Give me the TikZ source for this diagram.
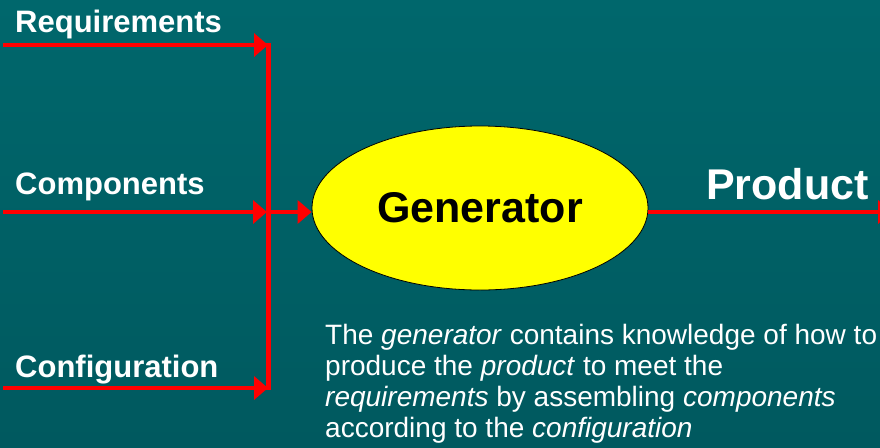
\documentclass[tikz,border=0pt]{standalone}
\usepackage{fontspec}
\setmainfont{Liberation Sans}
\usetikzlibrary{arrows.meta,shapes.geometric}
\definecolor{bgtop}{HTML}{00676C}
\definecolor{bgmid}{HTML}{007479}
\definecolor{bgbot}{HTML}{00595F}
\definecolor{arrowred}{HTML}{FF0000}
\definecolor{genyellow}{HTML}{FFFF00}
\begin{document}
\begin{tikzpicture}[x=1pt,y=-1pt,
  lbl/.style={anchor=base west, inner sep=0pt, text=white, font=\fontsize{31}{37}\selectfont\bfseries},
  biglbl/.style={anchor=base west, inner sep=0pt, text=white, font=\fontsize{43}{50}\selectfont\bfseries},
  flow/.style={draw=arrowred, line width=4.5pt, -{Triangle[length=14pt,width=23pt]}},
  bar/.style={draw=arrowred, line width=5pt},
  genbox/.style={ellipse, draw=black, line width=0.8pt, fill=genyellow, minimum width=336pt, minimum height=164pt, inner sep=0pt, font=\fontsize{43}{50}\selectfont\bfseries},
  note/.style={anchor=north west, inner sep=0pt, text=white, align=left, font=\fontsize{28}{31}\selectfont},
]
\shade[top color=bgtop, middle color=bgmid, bottom color=bgbot] (0,0) rectangle (880,447);
\useasboundingbox (0,0) rectangle (880,447);
\clip (0,0) rectangle (880,447);

% labels
\node[lbl] (req) at (15,32) {Requirements};
\node[lbl] (comp) at (15,194) {Components};
\node[lbl] (conf) at (15,377) {Configuration};
\node[biglbl] (prod) at (706,199) {Product};

% generator
\node[genbox] (gen) at (480,208) {Generator};

% connector points
\coordinate (reqS) at (3,45);
\coordinate (compS) at (3,212);
\coordinate (confS) at (3,388);
\coordinate (barTop) at (268,42.75);
\coordinate (barBot) at (268,390.25);
\coordinate (reqT) at (268,45);
\coordinate (compT) at (267,212);
\coordinate (confT) at (268,388);
\coordinate (barMid) at (268,212);
\coordinate (prodE) at (892,212);

\draw[bar] (barTop) -- (barBot);
\draw[flow] (reqS) -- (reqT);
\draw[flow] (compS) -- (compT);
\draw[flow] (confS) -- (confT);
\draw[flow] (barMid) -- (gen.west |- barMid);
\draw[flow] (gen.east |- prodE) -- (prodE);

% description
\node[note] (desc) at (325,324.5) {The \textit{generator} contains knowledge of how to\\
produce the \textit{product} to meet the\\
\textit{requirements} by assembling \textit{components}\\
according to the \textit{configuration}};
\end{tikzpicture}
\end{document}
